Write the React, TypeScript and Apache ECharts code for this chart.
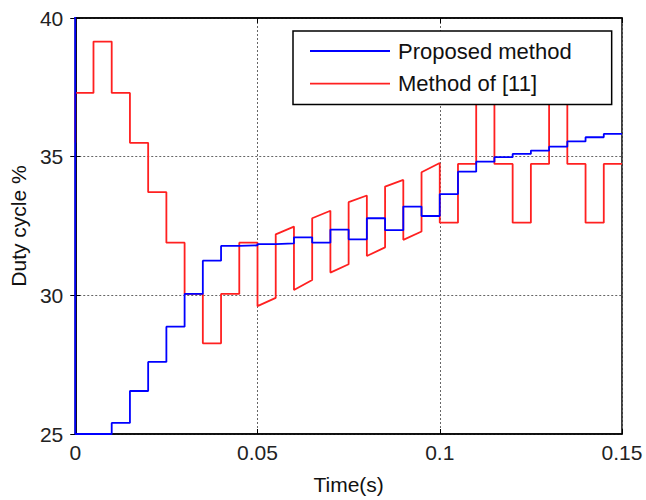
import React, { useEffect, useRef } from "react";
import * as echarts from "echarts";

// Proposed method: step values (value held from time t until the next time)
const blueTimes = [0, 0, 0.01, 0.015, 0.02, 0.025, 0.03, 0.035, 0.04, 0.045, 0.05, 0.055, 0.06, 0.065, 0.07, 0.075, 0.08, 0.085, 0.09, 0.095, 0.1, 0.105, 0.11, 0.115, 0.12, 0.125, 0.13, 0.135, 0.14, 0.145, 0.15];
const blueValues = [45, 25, 25.4, 26.55, 27.6, 28.87, 30.05, 31.25, 31.78, 31.8, 31.85, 31.87, 32.09, 31.9, 32.37, 32.02, 32.78, 32.35, 33.2, 32.86, 33.65, 34.46, 34.82, 34.98, 35.1, 35.22, 35.36, 35.55, 35.7, 35.82, 35.82];

// Method of [11]: polyline vertices
const redTimes = [0, 0, 0.005, 0.005, 0.01, 0.01, 0.015, 0.015, 0.02, 0.02, 0.025, 0.025, 0.03, 0.03, 0.035, 0.035, 0.04, 0.04, 0.045, 0.045, 0.05, 0.05, 0.055, 0.055, 0.06, 0.06, 0.065, 0.065, 0.07, 0.07, 0.075, 0.075, 0.08, 0.08, 0.085, 0.085, 0.09, 0.09, 0.095, 0.095, 0.1, 0.1, 0.105, 0.105, 0.11, 0.11, 0.115, 0.115, 0.12, 0.12, 0.125, 0.125, 0.13, 0.13, 0.135, 0.135, 0.14, 0.14, 0.145, 0.145, 0.15];
const redValues = [35.5, 37.3, 37.3, 39.15, 39.15, 37.3, 37.3, 35.5, 35.5, 33.72, 33.72, 31.9, 31.9, 30.05, 30.05, 28.27, 28.27, 30.05, 30.05, 31.9, 31.9, 29.61, 29.91, 32.2, 32.48, 30.19, 30.55, 32.78, 33.05, 30.82, 31.12, 33.36, 33.6, 31.42, 31.73, 33.92, 34.16, 32.0, 32.3, 34.44, 34.77, 32.62, 32.62, 34.74, 34.74, 39.2, 39.2, 34.74, 34.74, 32.62, 32.62, 34.74, 34.74, 39.2, 39.2, 34.74, 34.74, 32.62, 32.62, 34.74, 34.74];

const xTicks = { min: 0, max: 0.15, interval: 0.05 };
const yTicks = { min: 25, max: 40, interval: 5 };
const seriesNames = ["Proposed method", "Method of [11]"];
const xTitle = "Time(s)";
const yTitle = "Duty cycle %";

const FONT = "'Liberation Sans', Arial, sans-serif";

export default function App() {
  const ref = useRef<HTMLDivElement>(null);
  useEffect(() => {
    if (!ref.current) return;
    const chart = echarts.init(ref.current, null, { renderer: "svg" });
    const blueData = blueTimes.map((t, i) => [t, blueValues[i]]);
    const redData = redTimes.map((t, i) => [t, redValues[i]]);
    const split = { show: true, lineStyle: { color: "#666", type: [2, 2], width: 1 } };
    chart.setOption({
      animation: false,
      backgroundColor: "#fff",
      textStyle: { fontFamily: FONT },
      grid: {
        left: 75,
        right: 24,
        top: 18,
        bottom: 66,
        show: true,
        borderColor: "#000",
        borderWidth: 1.5,
        backgroundColor: "transparent",
      },
      legend: {
        left: 293,
        top: 31,
        orient: "vertical",
        backgroundColor: "#fff",
        borderColor: "#000",
        borderWidth: 1.5,
        borderRadius: 0,
        padding: [9, 40, 10, 17],
        icon: "rect",
        itemWidth: 80,
        itemHeight: 1.8,
        itemGap: 10.6,
        itemStyle: { borderWidth: 0 },
        textStyle: { fontFamily: FONT, fontSize: 22, color: "#111", lineHeight: 22, padding: [0, 0, 0, 3] },
        data: seriesNames,
      },
      xAxis: [
        {
          type: "value",
          min: xTicks.min,
          max: xTicks.max,
          interval: xTicks.interval,
          name: xTitle,
          nameLocation: "middle",
          nameGap: 40,
          nameTextStyle: { fontFamily: FONT, fontSize: 21, color: "#111" },
          axisLine: { show: true, lineStyle: { color: "#000", width: 1.5 } },
          axisTick: { show: true, inside: true, length: 5, lineStyle: { color: "#000" } },
          axisLabel: { fontFamily: FONT, fontSize: 21, color: "#222", margin: 8 },
          splitLine: split,
        },
        {
          type: "value",
          position: "top",
          min: xTicks.min,
          max: xTicks.max,
          interval: xTicks.interval,
          axisLine: { show: true, lineStyle: { color: "#000", width: 1.5 } },
          axisTick: { show: true, inside: true, length: 5, lineStyle: { color: "#000" } },
          axisLabel: { show: false },
          splitLine: { show: false },
        },
      ],
      yAxis: [
        {
          type: "value",
          min: yTicks.min,
          max: yTicks.max,
          interval: yTicks.interval,
          name: yTitle,
          nameLocation: "middle",
          nameGap: 42,
          nameTextStyle: { fontFamily: FONT, fontSize: 21, color: "#111" },
          axisLine: { show: true, lineStyle: { color: "#000", width: 1.5 } },
          axisTick: { show: true, inside: true, length: 5, lineStyle: { color: "#000" } },
          axisLabel: { fontFamily: FONT, fontSize: 21, color: "#222", margin: 12 },
          splitLine: split,
        },
        {
          type: "value",
          position: "right",
          min: yTicks.min,
          max: yTicks.max,
          interval: yTicks.interval,
          axisLine: { show: true, lineStyle: { color: "#000", width: 1.5 } },
          axisTick: { show: true, inside: true, length: 5, lineStyle: { color: "#000" } },
          axisLabel: { show: false },
          splitLine: { show: false },
        },
      ],
      series: [
        {
          name: seriesNames[0],
          type: "line",
          step: "end",
          data: blueData,
          showSymbol: false,
          symbol: "none",
          clip: true,
          color: "#0000ff",
          lineStyle: { color: "#0000ff", width: 1.8 },
          z: 3,
        },
        {
          name: seriesNames[1],
          type: "line",
          data: redData,
          showSymbol: false,
          symbol: "none",
          clip: true,
          color: "#ff2020",
          lineStyle: { color: "#ff2020", width: 1.8 },
          z: 2,
        },
      ],
    });
    return () => chart.dispose();
  }, []);
  return (
    <div
      ref={ref}
      style={{ position: "absolute", left: 0, top: 0, width: 646, height: 500, background: "#fff" }}
    />
  );
}
